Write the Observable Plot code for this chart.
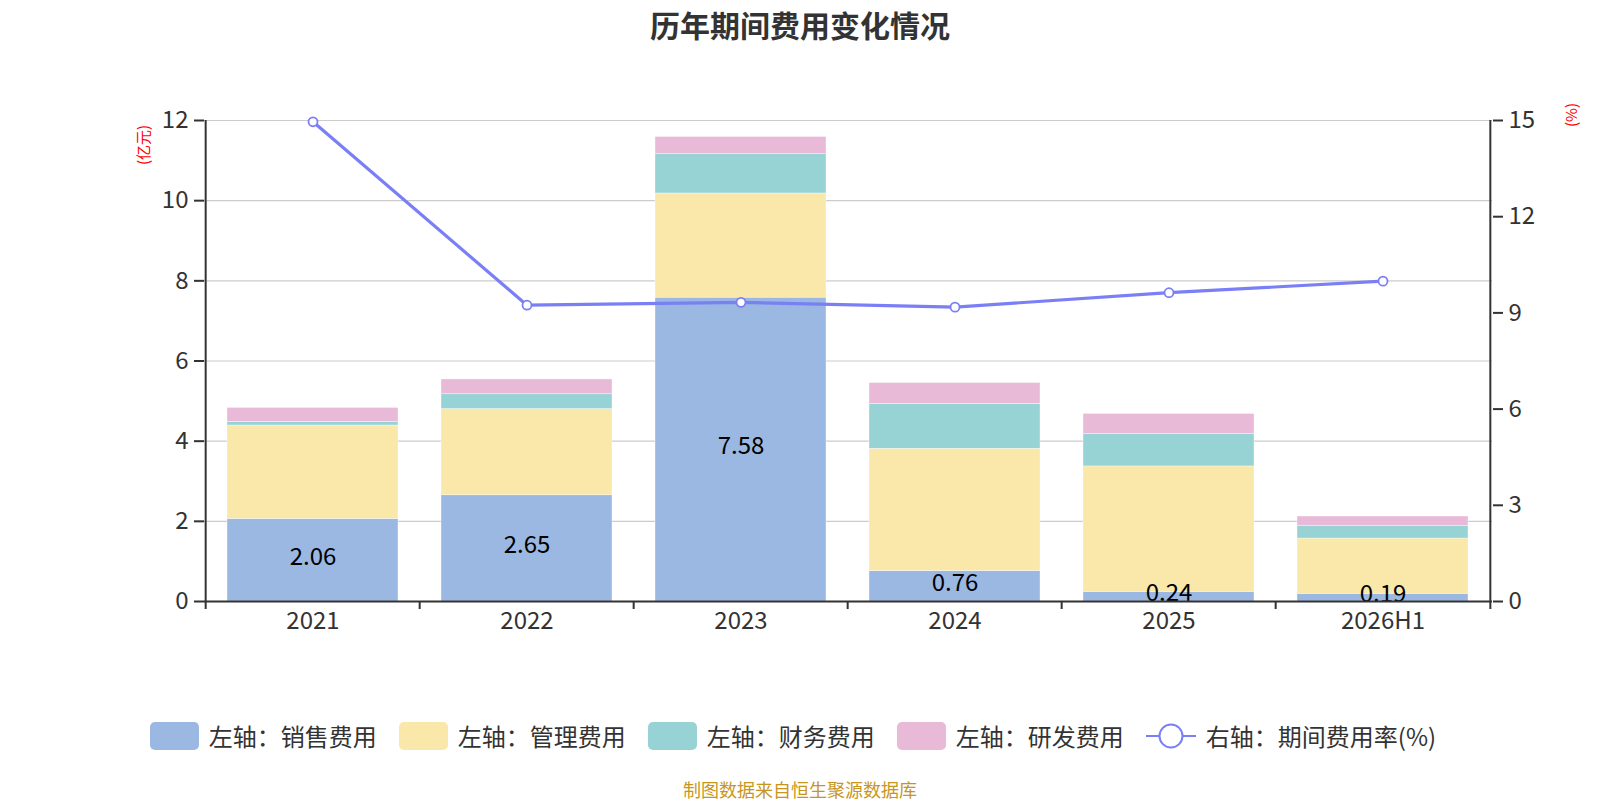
<!DOCTYPE html>
<html>
<head>
<meta charset="utf-8">
<script src="https://cdn.jsdelivr.net/npm/d3@7"></script>
<script src="https://cdn.jsdelivr.net/npm/@observablehq/plot@0.6"></script>
<style>
  html, body { margin: 0; padding: 0; background: #fff; }
  #wrap { position: relative; width: 1600px; height: 800px; font-family: "Noto Sans CJK SC", "Noto Sans", sans-serif; color: #333; }
  #chart { position: absolute; left: 0; top: 0; }
  .title { position: absolute; left: 0; width: 1600px; top: 4px; text-align: center; font-size: 30px; font-weight: bold; color: #333; line-height: 40px; }
  .axname { position: absolute; color: #ff0000; font-size: 15px; line-height: 16px; white-space: nowrap; transform: translate(-50%, -50%) rotate(-90deg); }
  .legend { position: absolute; left: 0; width: 1600px; top: 718px; display: flex; justify-content: center; align-items: center; transform: translateX(-7px); }
  .item { display: flex; align-items: center; margin: 0 11px; font-size: 24px; color: #333; line-height: 36px; }
  .sw { width: 49px; height: 28px; border-radius: 5px; margin-right: 10px; }
  .item svg { margin-right: 10px; }
  .footer { position: absolute; left: 0; width: 1600px; top: 777px; text-align: center; font-size: 18px; color: #c8961e; line-height: 24px; }
</style>
</head>
<body>
<div id="wrap">
  <div id="chart"></div>
  <div class="title" id="title"></div>
  <div class="axname" id="lname" style="left:143px; top:145px;"></div>
  <div class="axname" id="rname" style="left:1571px; top:115px;"></div>
  <div class="legend" id="legend"></div>
  <div class="footer" id="footer"></div>
</div>
<script>
// ---- data ----
const titleText = "历年期间费用变化情况";
const footerText = "制图数据来自恒生聚源数据库";
const leftAxisName = "(亿元)";
const rightAxisName = "(%)";
const years = ["2021", "2022", "2023", "2024", "2025", "2026H1"];
const sales   = [2.06, 2.65, 7.58, 0.76, 0.24, 0.19];
const admin   = [2.33, 2.15, 2.60, 3.05, 3.13, 1.38];
const finance = [0.09, 0.37, 0.98, 1.12, 0.81, 0.31];
const rnd     = [0.35, 0.37, 0.43, 0.52, 0.50, 0.24];
const rate    = [14.96, 9.24, 9.33, 9.18, 9.63, 9.99];
const seriesNames = ["左轴：销售费用", "左轴：管理费用", "左轴：财务费用", "左轴：研发费用"];
const lineName = "右轴：期间费用率(%)";
const colors = ["#9bb8e2", "#f9e8aa", "#97d3d4", "#e9b9d8"];
const lineColor = "#7b7ff6";
const leftTicks = [0, 2, 4, 6, 8, 10, 12];
const rightTicks = [0, 3, 6, 9, 12, 15];

// ---- build ----
const seriesValues = [sales, admin, finance, rnd];
const long = [];
seriesNames.forEach((s, si) => years.forEach((y, i) => long.push({year: y, series: s, value: seriesValues[si][i]})));

const W = 1600, H = 800, mL = 204, mR = 108, mT = 120, mB = 199;
const step = (W - mL - mR) / years.length;
const k = leftTicks[leftTicks.length - 1] / rightTicks[rightTicks.length - 1];
const tickLen = 8 / ((H - mT - mB) / 12);

const chart = Plot.plot({
  width: W, height: H,
  marginTop: mT, marginBottom: mB, marginLeft: mL, marginRight: mR,
  x: {domain: years, paddingInner: 0.2, paddingOuter: 0.1, label: null},
  y: {domain: [0, 12], label: null},
  color: {domain: seriesNames, range: colors},
  style: {fontFamily: "'Noto Sans CJK SC', 'Noto Sans', sans-serif", fontSize: "24px", color: "#333", background: "transparent"},
  marks: [
    Plot.ruleY(leftTicks.slice(1), {stroke: "#cccccc", strokeWidth: 1.2}),
    Plot.barY(long, {x: "year", y: "value", fill: "series", order: seriesNames, stroke: "#ffffff", strokeOpacity: 0.6, strokeWidth: 0.6}),
    Plot.text(years, {x: d => d, y: (d, i) => sales[i] / 2, dy: -3, text: (d, i) => sales[i].toFixed(2), fill: "#000", fontSize: 24, clip: true}),
    Plot.ruleY([0], {stroke: "#333", strokeWidth: 2}),
    Plot.ruleX([years[0]], {x: d => d, dx: -step / 2, stroke: "#333", strokeWidth: 2}),
    Plot.ruleX([years[years.length - 1]], {x: d => d, dx: step / 2, stroke: "#333", strokeWidth: 2}),
    Plot.ruleX(years, {x: d => d, dx: -step / 2, y1: 0, y2: -tickLen, stroke: "#333", strokeWidth: 2}),
    Plot.ruleX([years[years.length - 1]], {x: d => d, dx: step / 2, y1: 0, y2: -tickLen, stroke: "#333", strokeWidth: 2}),
    Plot.axisY({anchor: "left", ticks: leftTicks, tickSize: 10, tickPadding: 6, fontSize: 24, stroke: "#333", strokeWidth: 2, fill: "#333", label: null}),
    Plot.axisY({anchor: "right", ticks: rightTicks.map(v => v * k), tickFormat: d => String(Math.round(d / k)), tickSize: 10, tickPadding: 6, fontSize: 24, stroke: "#333", strokeWidth: 2, fill: "#333", label: null}),
    Plot.axisX({tickSize: 0, tickPadding: 10, fontSize: 24, fill: "#333", label: null}),
    Plot.line(years, {x: d => d, y: (d, i) => rate[i] * k, stroke: lineColor, strokeWidth: 3.2}),
    Plot.dot(years, {x: d => d, y: (d, i) => rate[i] * k, r: 4.5, fill: "#fff", stroke: lineColor, strokeWidth: 1.8})
  ]
});
document.getElementById("chart").appendChild(chart);

document.getElementById("title").textContent = titleText;
document.getElementById("footer").textContent = footerText;
document.getElementById("lname").textContent = leftAxisName;
document.getElementById("rname").textContent = rightAxisName;

const legend = document.getElementById("legend");
seriesNames.forEach((s, i) => {
  const it = document.createElement("div");
  it.className = "item";
  const sw = document.createElement("div");
  sw.className = "sw";
  sw.style.background = colors[i];
  const tx = document.createElement("span");
  tx.textContent = s;
  it.appendChild(sw); it.appendChild(tx);
  legend.appendChild(it);
});
{
  const it = document.createElement("div");
  it.className = "item";
  const ns = "http://www.w3.org/2000/svg";
  const svg = document.createElementNS(ns, "svg");
  svg.setAttribute("width", 50); svg.setAttribute("height", 28);
  const ln = document.createElementNS(ns, "line");
  ln.setAttribute("x1", 0); ln.setAttribute("x2", 50); ln.setAttribute("y1", 14); ln.setAttribute("y2", 14);
  ln.setAttribute("stroke", lineColor); ln.setAttribute("stroke-width", 2);
  const c = document.createElementNS(ns, "circle");
  c.setAttribute("cx", 25); c.setAttribute("cy", 14); c.setAttribute("r", 11.5);
  c.setAttribute("fill", "#fff"); c.setAttribute("stroke", lineColor); c.setAttribute("stroke-width", 2);
  svg.appendChild(ln); svg.appendChild(c);
  const tx = document.createElement("span");
  tx.textContent = lineName;
  it.appendChild(svg); it.appendChild(tx);
  legend.appendChild(it);
}
</script>
</body>
</html>
